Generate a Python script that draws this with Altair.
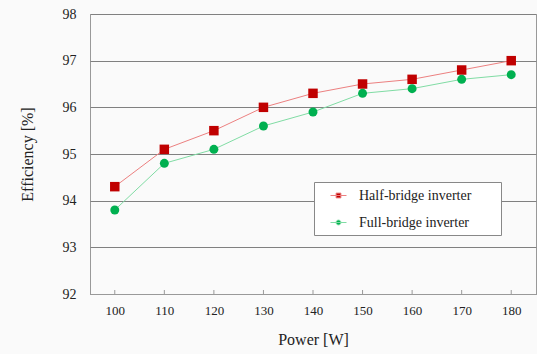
import altair as alt
import pandas as pd

power = [100, 110, 120, 130, 140, 150, 160, 170, 180]
half_bridge = [94.3, 95.1, 95.5, 96.0, 96.3, 96.5, 96.6, 96.8, 97.0]
full_bridge = [93.8, 94.8, 95.1, 95.6, 95.9, 96.3, 96.4, 96.6, 96.7]
series_names = ["Half-bridge inverter", "Full-bridge inverter"]
y_ticks = [92, 93, 94, 95, 96, 97, 98]

marker_colors = ["#c00000", "#00b050"]
line_colors = ["#ec8080", "#80dca4"]

rows = []
for p, h, f in zip(power, half_bridge, full_bridge):
    rows.append({"power": p, "eff": h, "series": series_names[0]})
    rows.append({"power": p, "eff": f, "series": series_names[1]})
df = pd.DataFrame(rows)
ticks_df = pd.DataFrame({"power": power})

FONT = "Liberation Serif"
W, H = 446, 280

x_enc = alt.X(
    "power:Q",
    scale=alt.Scale(domain=[95, 185], nice=False, zero=False),
    axis=alt.Axis(
        values=power, title="Power [W]", grid=False, tickSize=0,
        labelPadding=10, labelFontSize=13, labelFont=FONT, labelColor="#222",
        titleFont=FONT, titleFontSize=16, titleFontWeight="normal", titleColor="#222",
        titlePadding=14, domainColor="#999", labelFlush=False,
    ),
)
y_enc = alt.Y(
    "eff:Q",
    scale=alt.Scale(domain=[92, 98], nice=False, zero=False),
    axis=alt.Axis(
        values=y_ticks, title="Efficiency [%]", grid=True, gridColor="#808080",
        gridWidth=1, tickSize=0, domain=False, labelPadding=14, labelFontSize=14,
        labelFont=FONT, labelColor="#222", titleFont=FONT, titleFontSize=16,
        titleFontWeight="normal", titleColor="#222", titleX=-63, titleBaseline="middle",
        labelFlush=False,
    ),
)

lines = alt.Chart(df).mark_line(strokeWidth=1).encode(
    x=x_enc, y=y_enc,
    stroke=alt.Stroke("series:N", scale=alt.Scale(domain=series_names, range=line_colors), legend=None),
)

points = alt.Chart(df).mark_point(filled=True, opacity=1).encode(
    x="power:Q", y="eff:Q",
    fill=alt.Fill("series:N", scale=alt.Scale(domain=series_names, range=marker_colors), legend=None),
    shape=alt.Shape("series:N", scale=alt.Scale(domain=series_names, range=["square", "circle"]), legend=None),
    size=alt.Size("series:N", scale=alt.Scale(domain=series_names, range=[90, 80]), legend=None),
)

ticks = alt.Chart(ticks_df).mark_rule(color="#999", strokeWidth=1).encode(
    x="power:Q", y=alt.value(H), y2=alt.value(H - 4)
)

pad = "\u00a0" * 7 + "\u200b"
leg = alt.Legend(
    title=None, orient="none", legendX=224, legendY=168, padding=5,
    symbolOffset=11, labelOffset=12, rowPadding=11, symbolSize=256,
    symbolStrokeWidth=1, labelFont=FONT, labelFontSize=14, labelColor="#222",
    fillColor="#ffffff", strokeColor="#888888",
    labelExpr="datum.label + '" + pad + "'", labelLimit=400,
)
legend_paths = [
    "M-1,0H1M-0.3,-0.3H0.3V0.3H-0.3Z",
    "M-1,0H1M0.3,0A0.3,0.3,0,1,1,-0.3,0A0.3,0.3,0,1,1,0.3,0Z",
]
legend_layer = alt.Chart(df).transform_filter("false").mark_point(filled=True, opacity=1).encode(
    fill=alt.Fill("series:N", scale=alt.Scale(domain=series_names, range=marker_colors), legend=leg),
    stroke=alt.Stroke("series:N", scale=alt.Scale(domain=series_names, range=line_colors), legend=leg),
    shape=alt.Shape("series:N", scale=alt.Scale(domain=series_names, range=legend_paths), legend=leg),
)

chart = (
    alt.layer(lines, ticks, points, legend_layer)
    .resolve_scale(fill="independent", stroke="independent", shape="independent", size="independent")
    .properties(
        width=W, height=H,
        autosize=alt.AutoSizeParams(type="none"),
        padding={"left": 90, "top": 14, "right": 1, "bottom": 60},
        background="#fafafa",
    )
    .configure_view(fill="#ffffff", stroke="#999999", strokeWidth=1)
)

chart.save("out.html", embed_options={"renderer": "svg", "actions": False})
